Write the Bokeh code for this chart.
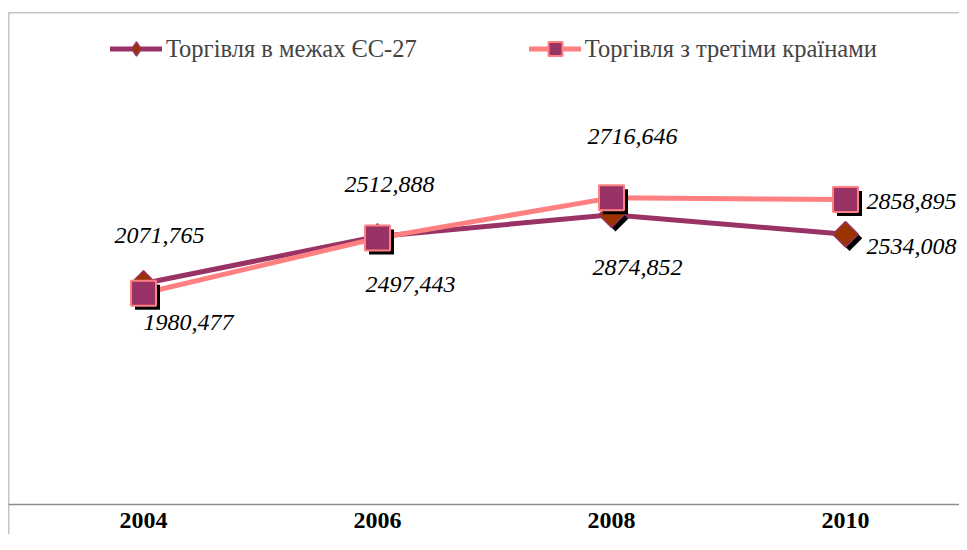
import math
from bokeh.plotting import figure
from bokeh.models import (ColumnDataSource, Range1d, LinearAxis, FixedTicker,
                          Legend, LegendItem)
from bokeh.transform import dodge
from bokeh.core.properties import value
from bokeh.embed import file_html
from bokeh.resources import INLINE

# ---------------- data ----------------
years = [2004, 2006, 2008, 2010]
eu27 = [2071.765, 2512.888, 2716.646, 2534.008]          # Торгівля в межах ЄС-27
third = [1980.477, 2497.443, 2874.852, 2858.895]         # Торгівля з третіми країнами
series_names = ["Торгівля в межах ЄС-27", "Торгівля з третіми країнами"]


def fmt(v):
    return f"{v:.3f}".replace(".", ",")


# ---------------- layout / style ----------------
W, H = 959, 534
LEFT, TOP = 8, 12        # canvas px of chart border (left / top)
PX_YEAR = 117.0          # px per year
X_FIRST = 143.0          # canvas x of first year
PX_UNIT = 0.10667        # px per value unit
ZERO_Y = 504.0           # canvas y of value 0
SHADOW = 4               # marker shadow offset, px

# data label offsets (screen px from the point)
EU_DX = [16, 12, 21, 66]
EU_DY = [-48, -52, -78, 12]
TH_DX = [45, 33, 26, 66]
TH_DY = [29, 46, 70, 2]

GRAY = "#8c8c8c"
EU_LINE = "#993366"
EU_FILL = "#993300"
TH_LINE = "#FF8080"
TH_FILL = "#993366"
FONT = "Liberation Serif"

x_start = years[0] - (X_FIRST - LEFT) / PX_YEAR
x_end = x_start + (W - LEFT) / PX_YEAR
y_end = (ZERO_Y - TOP) / PX_UNIT
y_start = -(H - ZERO_Y) / PX_UNIT

src = ColumnDataSource(dict(
    x=years, eu=eu27, third=third,
    eu_lbl=[fmt(v) for v in eu27], th_lbl=[fmt(v) for v in third],
    eu_dx=EU_DX, eu_dy=EU_DY, th_dx=TH_DX, th_dy=TH_DY,
))

p = figure(width=W, height=H, x_range=Range1d(x_start, x_end),
           y_range=Range1d(y_start, y_end),
           output_backend="svg", toolbar_location=None,
           x_axis_location=None, y_axis_location=None,
           min_border_left=LEFT, min_border_right=0,
           min_border_top=TOP, min_border_bottom=0)
p.outline_line_color = None
p.xgrid.visible = False
p.ygrid.visible = False
p.background_fill_color = "white"
p.border_fill_color = "white"

# category axis at value 0
xaxis = LinearAxis(ticker=FixedTicker(ticks=years), fixed_location=0,
                   axis_line_color=GRAY, axis_line_width=1.5,
                   major_tick_line_color=None, minor_tick_line_color=None,
                   major_tick_in=0, major_tick_out=0,
                   major_label_standoff=8,
                   major_label_text_font=FONT,
                   major_label_text_font_style="bold",
                   major_label_text_font_size="24px",
                   major_label_text_color="black",
                   major_label_overrides={y: str(y) for y in years})
p.add_layout(xaxis, "below")

# chart border (top and left)
top_axis = LinearAxis(ticker=FixedTicker(ticks=[]), fixed_location=y_end,
                      axis_line_color=GRAY, axis_line_width=1.5,
                      major_tick_line_color=None, minor_tick_line_color=None,
                      major_label_text_font_size="0px")
p.add_layout(top_axis, "above")
left_axis = LinearAxis(ticker=FixedTicker(ticks=[]), fixed_location=x_start,
                       axis_line_color=GRAY, axis_line_width=1.5,
                       major_tick_line_color=None, minor_tick_line_color=None,
                       major_label_text_font_size="0px")
p.add_layout(left_axis, "left")

sx = dodge("x", SHADOW / PX_YEAR)

# EU-27 series
eu_line = p.line("x", "eu", source=src, line_color=EU_LINE, line_width=5,
                 line_join="round", line_cap="round")
p.scatter(sx, dodge("eu", -SHADOW / PX_UNIT), source=src, marker="square",
          angle=math.pi / 4, size=18, fill_color="black", line_color=None)
p.scatter("x", "eu", source=src, marker="square", angle=math.pi / 4,
          size=18, fill_color=EU_FILL, line_color=EU_LINE, line_width=1.5)
# legend key: diamond glyph shifted far outside the visible range
eu_key = p.scatter(dodge("x", -100), "eu", source=src,
                   marker="diamond", size=18,
                   fill_color=EU_FILL, line_color=EU_LINE, line_width=1.5)

# third countries series
th_line = p.line("x", "third", source=src, line_color=TH_LINE, line_width=5,
                 line_join="round", line_cap="round")
p.scatter(sx, dodge("third", -SHADOW / PX_UNIT), source=src, marker="square",
          size=25, fill_color="black", line_color=None)
th_marks = p.scatter("x", "third", source=src, marker="square", size=25,
                     fill_color=TH_FILL, line_color=TH_LINE, line_width=2)

# data labels
lbl_kw = dict(source=src, text_font=value(FONT), text_font_style="italic",
              text_font_size="24px", text_align="center", text_baseline="middle",
              text_color="black")
p.text("x", "eu", text="eu_lbl", x_offset="eu_dx", y_offset="eu_dy", **lbl_kw)
p.text("x", "third", text="th_lbl", x_offset="th_dx", y_offset="th_dy", **lbl_kw)

legend = Legend(items=[LegendItem(label=series_names[0], renderers=[eu_line, eu_key]),
                       LegendItem(label=series_names[1], renderers=[th_line, th_marks])],
                orientation="horizontal", location=(110 - LEFT, H - 66),
                glyph_width=52, glyph_height=35, label_standoff=4, spacing=112,
                padding=0, margin=0, border_line_color=None,
                background_fill_alpha=0, label_text_font=FONT,
                label_text_font_size="24.5px", label_height=24)
p.add_layout(legend)

open("out.html", "w").write(file_html(p, INLINE))
